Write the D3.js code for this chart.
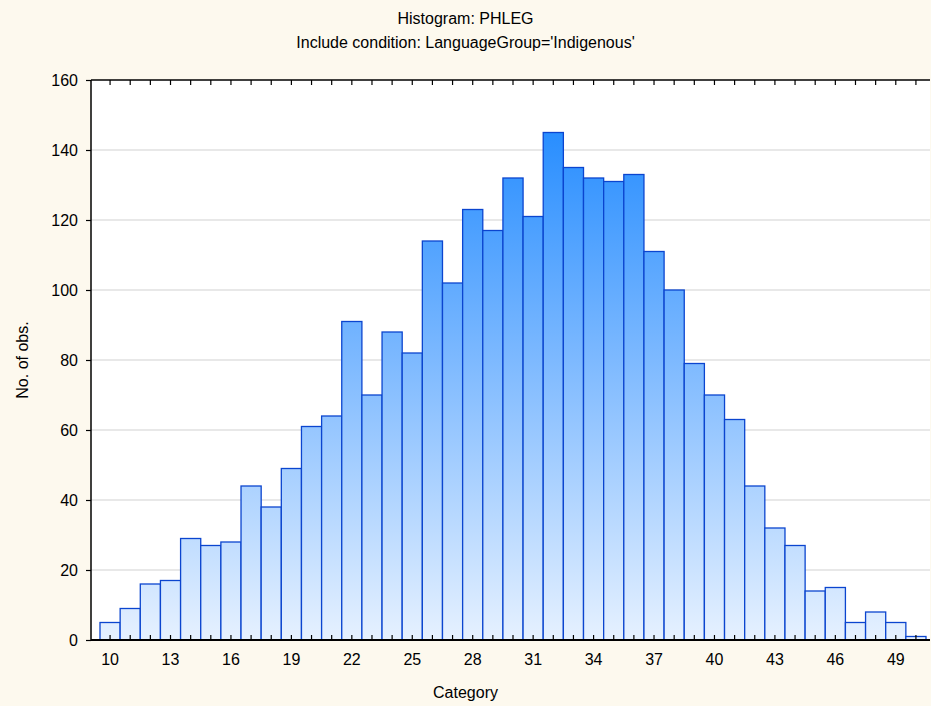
<!DOCTYPE html>
<html>
<head>
<meta charset="utf-8">
<script src="https://cdn.jsdelivr.net/npm/d3@7"></script>
<style>
  html, body { margin: 0; padding: 0; background: #fdf9ee; }
  svg text { font-family: "Liberation Sans", Arial, sans-serif; fill: #000; }
</style>
</head>
<body>
<div id="chart"></div>
<script>
// histogram counts per category
const categories = d3.range(10, 51);
const counts = [5, 9, 16, 17, 29, 27, 28, 44, 38, 49, 61, 64, 91, 70, 88, 82, 114, 102, 123, 117,
  132, 121, 145, 135, 132, 131, 133, 111, 100, 79, 70, 63, 44, 32, 27, 14, 15, 5, 8, 5, 1];
const yTicks = [0, 20, 40, 60, 80, 100, 120, 140, 160];
const xLabels = [10, 13, 16, 19, 22, 25, 28, 31, 34, 37, 40, 43, 46, 49];

const titleLines = ["Histogram: PHLEG", "Include condition: LanguageGroup='Indigenous'"];

const makeHistogram = (id) => {
  const width = 931;
  const height = 706;
  const left = 91, right = 930, top = 80, bottom = 640;
  const fontSize = "16px";

  const data = categories.map((c, i) => ({ cat: c, value: counts[i] }));

  const svg = d3.select("#" + id)
    .append("svg")
    .attr("width", width)
    .attr("height", height);

  svg.append("rect")
    .attr("width", width).attr("height", height)
    .attr("fill", "#fdf9ee");

  // plot background
  svg.append("rect")
    .attr("x", left).attr("y", top)
    .attr("width", right - left).attr("height", bottom - top)
    .attr("fill", "#ffffff");

  const x = d3.scaleBand()
    .domain(categories)
    .range([100, 926])
    .paddingInner(0);

  const y = d3.scaleLinear()
    .domain([0, 160])
    .range([bottom, top]);

  // gradient in user space so every bar shares the same colour at a given height
  const grad = svg.append("defs").append("linearGradient")
    .attr("id", "barGrad")
    .attr("gradientUnits", "userSpaceOnUse")
    .attr("x1", 0).attr("x2", 0)
    .attr("y1", y(160)).attr("y2", y(0));
  grad.append("stop").attr("offset", "0%").attr("stop-color", "#1584ff");
  grad.append("stop").attr("offset", "50%").attr("stop-color", "#7db9ff");
  grad.append("stop").attr("offset", "100%").attr("stop-color", "#e6f1ff");

  // grid lines
  svg.append("g")
    .selectAll("line")
    .data(yTicks.filter(t => t > 0 && t < 160))
    .enter().append("line")
    .attr("x1", left).attr("x2", right)
    .attr("y1", d => y(d)).attr("y2", d => y(d))
    .attr("stroke", "#e0e0e0")
    .attr("stroke-width", 1.5);

  // bars
  svg.append("g")
    .selectAll("rect")
    .data(data)
    .enter().append("rect")
    .attr("x", d => x(d.cat))
    .attr("y", d => y(d.value))
    .attr("width", x.bandwidth())
    .attr("height", d => bottom - y(d.value))
    .attr("fill", "url(#barGrad)")
    .attr("stroke", "#0b45cf")
    .attr("stroke-width", 1.3);

  // top border with inward ticks
  const xTop = d3.axisTop(x).tickSize(-5).tickFormat("");
  const gTop = svg.append("g")
    .attr("transform", "translate(0," + top + ")")
    .call(xTop);
  gTop.select(".domain").remove();
  gTop.selectAll(".tick line").attr("stroke", "#000").attr("stroke-width", 1.2);
  svg.append("line")
    .attr("x1", left).attr("x2", right)
    .attr("y1", top).attr("y2", top)
    .attr("stroke", "#000").attr("stroke-width", 1.5);

  // bottom axis, inward ticks, labels every third category
  const xBottom = d3.axisBottom(x)
    .tickSize(-5)
    .tickPadding(14)
    .tickFormat(d => xLabels.includes(d) ? d : "");
  const gBottom = svg.append("g")
    .attr("transform", "translate(0," + bottom + ")")
    .call(xBottom);
  gBottom.select(".domain").remove();
  gBottom.selectAll(".tick line").attr("stroke", "#000").attr("stroke-width", 1.2);
  gBottom.selectAll(".tick text")
    .style("font-size", fontSize)
    .attr("dy", "0.71em");
  svg.append("line")
    .attr("x1", left).attr("x2", right)
    .attr("y1", bottom).attr("y2", bottom)
    .attr("stroke", "#000").attr("stroke-width", 2);

  // left axis
  const yAxis = d3.axisLeft(y)
    .tickValues(yTicks)
    .tickSize(5)
    .tickPadding(8);
  const gLeft = svg.append("g")
    .attr("transform", "translate(" + left + ",0)")
    .call(yAxis);
  gLeft.select(".domain").remove();
  gLeft.selectAll(".tick line").attr("stroke", "#000").attr("stroke-width", 1.2);
  gLeft.selectAll(".tick text").style("font-size", fontSize);
  svg.append("line")
    .attr("x1", left).attr("x2", left)
    .attr("y1", top).attr("y2", bottom)
    .attr("stroke", "#000").attr("stroke-width", 1.5);

  // titles
  svg.append("g")
    .selectAll("text")
    .data(titleLines)
    .enter().append("text")
    .attr("x", (left + right) / 2 - 45)
    .attr("y", (d, i) => 24 + i * 24)
    .attr("text-anchor", "middle")
    .style("font-size", fontSize)
    .text(d => d);

  svg.append("text")
    .attr("x", (left + right) / 2 - 45)
    .attr("y", 698)
    .attr("text-anchor", "middle")
    .style("font-size", fontSize)
    .text("Category");

  svg.append("text")
    .attr("transform", "translate(28," + ((top + bottom) / 2) + ") rotate(-90)")
    .attr("text-anchor", "middle")
    .style("font-size", fontSize)
    .text("No. of obs.");
};

makeHistogram("chart");
</script>
</body>
</html>
